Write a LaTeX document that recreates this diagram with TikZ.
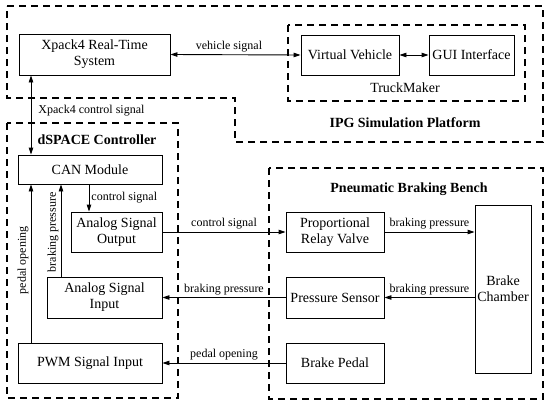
\documentclass[tikz,border=0pt]{standalone}
\usepackage{fontspec}
\setmainfont{Liberation Serif}
\usetikzlibrary{arrows.meta}

\begin{document}
\begin{tikzpicture}[x=1pt, y=-1pt,
        blk/.style={draw, line width=0.9pt, align=center, inner sep=1pt, font=\fontsize{14}{16}\selectfont},
        grp/.style={draw, line width=1.2pt, dash pattern=on 7pt off 5pt},
        lbl/.style={font=\fontsize{12}{14}\selectfont, inner sep=2pt},
        ttl/.style={font=\fontsize{14}{16}\selectfont\bfseries},
        sig/.style={line width=0.9pt, -{Triangle[length=7pt,width=4.5pt]}},
        bisig/.style={line width=0.9pt, {Triangle[length=7pt,width=4.5pt]}-{Triangle[length=7pt,width=4.5pt]}}]
    \useasboundingbox (0,0) rectangle (550,407);

    % IPG simulation platform
    \draw[grp] (7,6) -- (543,6) -- (543,142) -- (235,142) -- (235,98) -- (7,98) -- cycle;
    \node[ttl] (ipgttl) at (405,123) {IPG Simulation Platform};
    \draw[grp] (288,25) rectangle (525,101);
    \node[font=\fontsize{14}{16}\selectfont] (tmttl) at (405,88) {TruckMaker};

    \node[blk, minimum width=151pt, minimum height=41pt] (xpack) at (94.5,54.5) {Xpack4 Real-Time\\System};
    \node[blk, minimum width=98pt, minimum height=40pt] (vv) at (350,55) {Virtual Vehicle};
    \node[blk, minimum width=85pt, minimum height=40pt] (gui) at (471.5,55) {GUI Interface};

    \draw[bisig] (xpack.east) -- node[lbl, above, pos=0.45] {vehicle signal} (vv.west);
    \draw[bisig] (vv.east) -- (gui.west);

    % dSPACE controller
    \draw[grp] (7,123) rectangle (178,398);
    \node[ttl] (dsttl) at (97,140) {dSPACE Controller};

    \node[blk, minimum width=144pt, minimum height=29pt] (can) at (90,169.5) {CAN Module};
    \node[blk, minimum width=91pt, minimum height=40pt] (aso) at (116.5,232) {Analog Signal\\Output};
    \node[blk, minimum width=115pt, minimum height=41pt] (asi) at (104.5,297.5) {Analog Signal\\Input};
    \node[blk, minimum width=144pt, minimum height=40pt] (pwm) at (90,363) {PWM Signal Input};

    \coordinate (ctlx) at (31,0);
    \coordinate (bpx) at (61,0);
    \coordinate (csx) at (89,0);

    \draw[bisig] (xpack.south -| ctlx) -- node[lbl, right=5pt, pos=0.44] {Xpack4 control signal} (can.north -| ctlx);
    \draw[sig] (can.south -| csx) -- node[lbl, right] {control signal} (aso.north -| csx);
    \draw[sig] (pwm.north -| ctlx) -- node[lbl, above, sloped, pos=0.52] {pedal opening} (can.south -| ctlx);
    \draw[sig] (asi.north -| bpx) -- node[lbl, above, sloped, pos=0.48] {braking pressure} (can.south -| bpx);

    % pneumatic braking bench
    \draw[grp] (269,168) rectangle (543,399);
    \node[ttl] (pbttl) at (409,189) {Pneumatic Braking Bench};

    \node[blk, minimum width=98pt, minimum height=40pt] (prv) at (335,232) {Proportional\\Relay Valve};
    \node[blk, minimum width=98pt, minimum height=41pt] (ps) at (335,297.5) {Pressure Sensor};
    \node[blk, minimum width=98pt, minimum height=40pt] (bp) at (335,363) {Brake Pedal};
    \node[blk, minimum width=56pt, minimum height=168pt] (bc) at (503,289) {Brake\\Chamber};

    \draw[sig] (aso.east) -- node[lbl, above] {control signal} (prv.west);
    \draw[sig] (prv.east) -- node[lbl, above] {braking pressure} (prv.east -| bc.west);
    \draw[sig] (ps.east -| bc.west) -- node[lbl, above] {braking pressure} (ps.east);
    \draw[sig] (ps.west) -- node[lbl, above] {braking pressure} (ps.west -| asi.east);
    \draw[sig] (bp.west) -- node[lbl, above] {pedal opening} (pwm.east);
\end{tikzpicture}
\end{document}
